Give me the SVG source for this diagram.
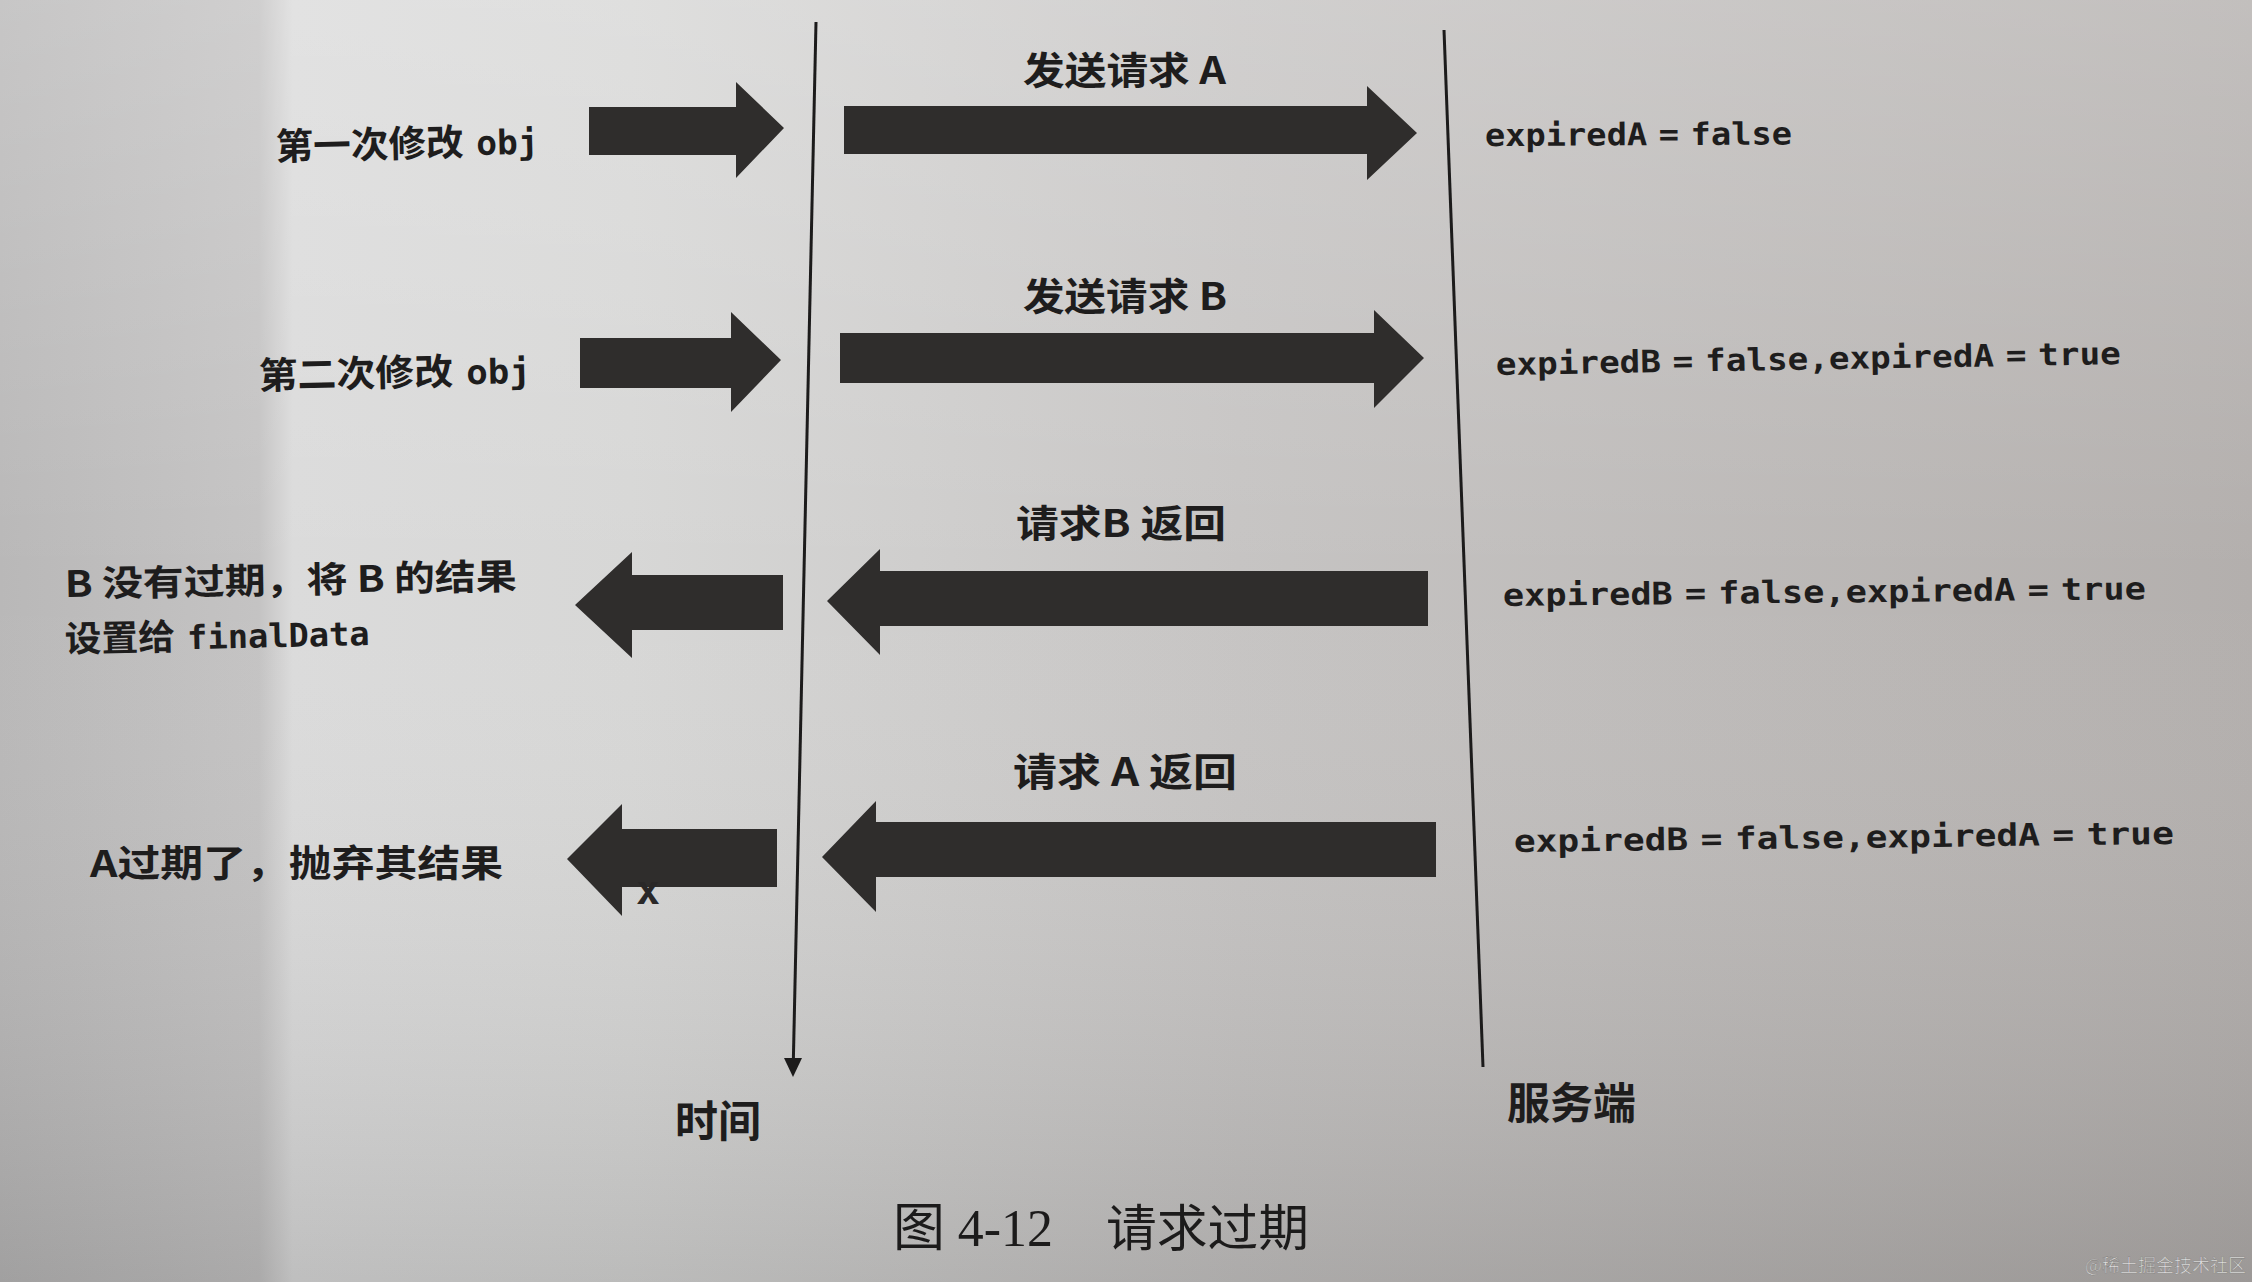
<svg xmlns="http://www.w3.org/2000/svg" width="2252" height="1282" viewBox="0 0 2252 1282">
  <defs>
    <linearGradient id="paperH" x1="0" y1="0" x2="2252" y2="0" gradientUnits="userSpaceOnUse">
      <stop offset="0" stop-color="#b9b8b8"/>
      <stop offset="0.115" stop-color="#c4c3c3"/>
      <stop offset="0.13" stop-color="#dbdbdb"/>
      <stop offset="0.28" stop-color="#d7d7d6"/>
      <stop offset="0.55" stop-color="#c6c4c3"/>
      <stop offset="1" stop-color="#b3afad"/>
    </linearGradient>
    <linearGradient id="paperV" x1="0" y1="0" x2="0" y2="1282" gradientUnits="userSpaceOnUse">
      <stop offset="0" stop-color="#ffffff" stop-opacity="0.2"/>
      <stop offset="0.45" stop-color="#ffffff" stop-opacity="0"/>
      <stop offset="1" stop-color="#000000" stop-opacity="0.13"/>
    </linearGradient>
    <style>
      .arrow { fill: #2f2d2c; }
      .axis { stroke: #1c1b1b; stroke-width: 3; fill: none; }
      .head { fill: #1c1b1b; }
      .lbl { font-family: "Noto Sans CJK SC", "Noto Sans", sans-serif; font-weight: bold; fill: #1e1d1d; }
      .code { font-family: "DejaVu Sans Mono", "Liberation Mono", monospace; font-weight: bold; fill: #1e1d1d; word-spacing: -8px; }
      .cap { font-family: "Liberation Serif", "Noto Sans CJK SC", serif; fill: #1c1b1b; }
    </style>
  </defs>

  <rect x="0" y="0" width="2252" height="1282" fill="url(#paperH)"/>
  <rect x="0" y="0" width="2252" height="1282" fill="url(#paperV)"/>

  <g id="connectors">
    <line id="time-axis" class="axis" x1="816" y1="22" x2="793.4" y2="1058"/>
    <path class="head" d="M784,1058 L802,1058 L793,1077 Z"/>
    <line id="server-axis" class="axis" x1="1444" y1="30" x2="1483" y2="1067"/>
    <path id="arrow-modify1" class="arrow" d="M589,107 L736,107 L736,82 L784,128 L736,178 L736,155 L589,155 Z"/>
    <path id="arrow-modify2" class="arrow" d="M580,338 L731,338 L731,312 L781,360 L731,412 L731,388 L580,388 Z"/>
    <path id="arrow-sendA" class="arrow" d="M844,106 L1367,106 L1367,86 L1417,133 L1367,180 L1367,154 L844,154 Z"/>
    <path id="arrow-sendB" class="arrow" d="M840,333 L1374,333 L1374,310 L1424,358 L1374,408 L1374,383 L840,383 Z"/>
    <path id="arrow-returnB" class="arrow" d="M1428,571 L880,571 L880,549 L827,601 L880,655 L880,626 L1428,626 Z"/>
    <path id="arrow-returnA" class="arrow" d="M1436,822 L876,822 L876,801 L822,857 L876,912 L876,877 L1436,877 Z"/>
    <path id="arrow-resultB" class="arrow" d="M783,575 L632,575 L632,552 L575,605 L632,658 L632,630 L783,630 Z"/>
    <path id="arrow-resultA" class="arrow" d="M777,829 L622,829 L622,804 L567,859 L622,916 L622,887 L777,887 Z"/>
    <text x="648" y="904" font-family="DejaVu Sans Mono, monospace" font-weight="bold" font-size="40" fill="#2a2828" text-anchor="middle">x</text>
  </g>

  <g id="node-modify1">
    <text class="lbl" x="276" y="160" font-size="37" textLength="263" lengthAdjust="spacingAndGlyphs" transform="rotate(-1.4 276 160)">第一次修改<tspan class="code" font-size="34"> obj</tspan></text>
  </g>
  <g id="node-modify2">
    <text class="lbl" x="259" y="389" font-size="37" textLength="272" lengthAdjust="spacingAndGlyphs" transform="rotate(-1.3 259 389)">第二次修改<tspan class="code" font-size="34"> obj</tspan></text>
  </g>
  <g id="node-sendA">
    <text class="lbl" x="1023" y="84" font-size="38" textLength="203" lengthAdjust="spacingAndGlyphs">发送请求 A</text>
  </g>
  <g id="node-sendB">
    <text class="lbl" x="1023" y="310" font-size="38" textLength="204" lengthAdjust="spacingAndGlyphs">发送请求 B</text>
  </g>
  <g id="node-returnB">
    <text class="lbl" x="1016" y="537" font-size="38" textLength="210" lengthAdjust="spacingAndGlyphs">请求B 返回</text>
  </g>
  <g id="node-returnA">
    <text class="lbl" x="1013" y="786" font-size="39" textLength="224" lengthAdjust="spacingAndGlyphs">请求 A 返回</text>
  </g>
  <g id="node-stateA">
    <text class="code" x="1485" y="146" font-size="31" textLength="307" lengthAdjust="spacingAndGlyphs" transform="rotate(-0.3 1485 146)">expiredA = false</text>
  </g>
  <g id="node-stateB1">
    <text class="code" x="1496" y="375" font-size="31" textLength="625" lengthAdjust="spacingAndGlyphs" transform="rotate(-1 1496 375)">expiredB = false,expiredA = true</text>
  </g>
  <g id="node-stateB2">
    <text class="code" x="1503" y="606" font-size="31" textLength="643" lengthAdjust="spacingAndGlyphs" transform="rotate(-0.6 1503 606)">expiredB = false,expiredA = true</text>
  </g>
  <g id="node-stateB3">
    <text class="code" x="1514" y="852" font-size="31" textLength="660" lengthAdjust="spacingAndGlyphs" transform="rotate(-0.7 1514 852)">expiredB = false,expiredA = true</text>
  </g>
  <g id="node-resultB">
    <text class="lbl" x="65" y="597" font-size="36" textLength="452" lengthAdjust="spacingAndGlyphs" transform="rotate(-1 65 597)">B 没有过期，将 B 的结果</text>
    <text class="lbl" x="65" y="652" font-size="36" textLength="305" lengthAdjust="spacingAndGlyphs" transform="rotate(-1.3 65 652)">设置给<tspan class="code" font-size="33"> finalData</tspan></text>
  </g>
  <g id="node-resultA">
    <text class="lbl" x="90" y="877" font-size="37" textLength="413" lengthAdjust="spacingAndGlyphs">A过期了，抛弃其结果</text>
  </g>
  <g id="node-time">
    <text class="lbl" x="675" y="1137" font-size="43" textLength="86" lengthAdjust="spacingAndGlyphs">时间</text>
  </g>
  <g id="node-server">
    <text class="lbl" x="1507" y="1119" font-size="43" textLength="129" lengthAdjust="spacingAndGlyphs">服务端</text>
  </g>
  <g id="caption">
    <text class="cap" x="893" y="1246" font-size="52" textLength="160" lengthAdjust="spacingAndGlyphs">图 4-12</text>
    <text class="cap" x="1106" y="1246" font-size="50" textLength="203" lengthAdjust="spacingAndGlyphs">请求过期</text>
  </g>
  <text x="2085" y="1272" font-family="Noto Sans CJK SC, sans-serif" font-size="18" fill="#f2f2f2" fill-opacity="0.85" stroke="#8a8886" stroke-width="0.6" textLength="161" lengthAdjust="spacingAndGlyphs">@稀土掘金技术社区</text>
</svg>
